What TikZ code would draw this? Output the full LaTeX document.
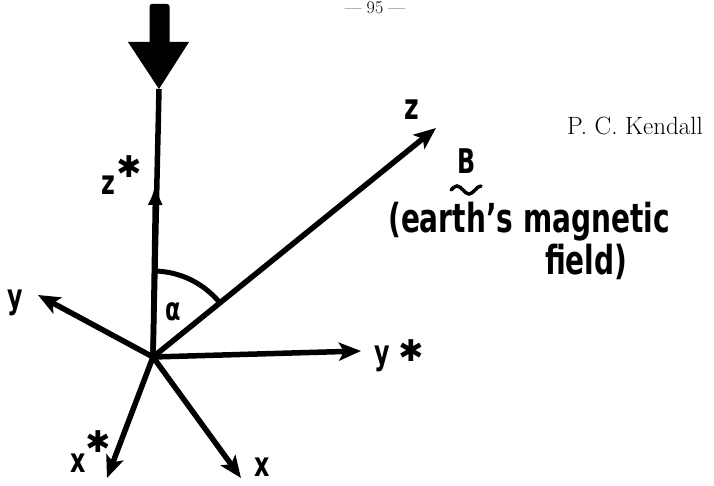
\documentclass[tikz,border=0pt]{standalone}
\usepackage{fontspec}
\usetikzlibrary{arrows.meta}
\newfontfamily\hand[FakeStretch=0.7]{DejaVu Sans}
\newfontfamily\symf{DejaVu Sans}
\begin{document}
\begin{tikzpicture}[x=1pt,y=1pt,
  axis/.style={line width=5.5pt},
  ax/.style={line width=5.5pt, -{Stealth[length=22pt,width=18pt,inset=5pt]}},
  midtip/.style={line width=5.5pt, -{Latex[length=22pt,width=15pt]}},
  lbl/.style={inner sep=0pt, font=\hand\bfseries\fontsize{34}{34}\selectfont},
  starlbl/.style={inner sep=0pt, font=\symf\bfseries\fontsize{30}{30}\selectfont},
  txt/.style={inner sep=0pt, anchor=base west, font=\hand\bfseries\fontsize{40}{40}\selectfont},
]
\useasboundingbox (0,0) rectangle (714,485);
% coordinates
\coordinate (O) at (153,128);
\coordinate (Ztop) at (159,396);
\coordinate (ZS) at (155.6,302);
\coordinate (Zt) at (436,357);
\coordinate (Yt) at (38,190);
\coordinate (YSt) at (361,134);
\coordinate (XSt) at (107,7);
\coordinate (Xt) at (241,7);
% vertical axis and thick arrow
\draw[axis] (O) -- (Ztop);
\draw[midtip] (O) -- (ZS);
\fill[rounded corners=2.5pt] (149.5,439) rectangle (169.5,481);
\fill (128,443) -- (189,443) -- (Ztop) -- cycle;
% other axes
\draw[ax] (O) -- (Zt);
\draw[ax] (O) -- (Yt);
\draw[ax] (O) -- (YSt);
\draw[ax] (O) -- (XSt);
\draw[ax] (O) -- (Xt);
% angle
\draw[line width=5pt] (O) ++(88.7:86pt) arc[start angle=88.7, end angle=39.1, radius=86pt];
\node[lbl, font=\hand\bfseries\fontsize{32}{32}\selectfont] (alpha) at (173,173) {α};
% labels
\node[lbl] (zslab) at (108,300) {z};
\node[starlbl] (zsstar) at (129,318) {✱};
\node[lbl, font=\hand\bfseries\fontsize{36}{36}\selectfont] (zlab) at (412,375) {z};
\node[lbl] (ylab) at (15,182) {y};
\node[lbl] (yslab) at (382,126) {y};
\node[starlbl] (ysstar) at (411,134) {✱};
\node[lbl] (xslab) at (78,22) {x};
\node[starlbl] (xsstar) at (98,43) {✱};
\node[lbl] (xlab) at (262,18) {x};
% B with tilde
\node[lbl, anchor=base] (B) at (467,311) {B};
\draw[line width=3.5pt, line cap=round] (451,295) sin (457,299) cos (463,295) sin (469,291) cos (475,295) sin (481,299);
\node[txt] (earth) at (388,252) {(earth’s magnetic};
\node[txt] (field) at (545,211) {field)};
% header texts
\node[anchor=base west, inner sep=0pt, font=\fontsize{25}{25}\selectfont] (author) at (567,350) {P. C. Kendall};
\node[anchor=base, inner sep=0pt, font=\fontsize{18}{18}\selectfont] (page) at (375,471) {--- 95 ---};
\end{tikzpicture}
\end{document}
